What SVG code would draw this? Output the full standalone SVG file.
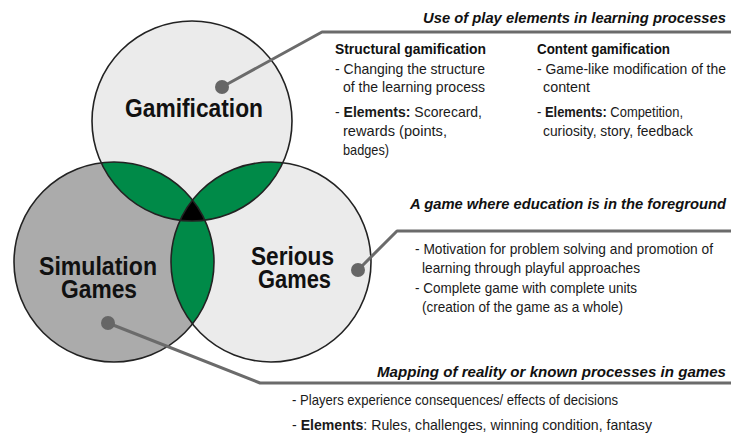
<svg xmlns="http://www.w3.org/2000/svg" width="731" height="436" viewBox="0 0 731 436">
<style>
.t{font-family:"Liberation Sans",Arial,sans-serif;font-size:15px;fill:#1a1a1a}
.h{font-family:"Liberation Sans",Arial,sans-serif;font-size:15.5px;font-weight:bold;font-style:italic;fill:#111;text-anchor:end}
.sub{font-family:"Liberation Sans",Arial,sans-serif;font-size:15px;font-weight:bold;fill:#111}
.lab{font-family:"Liberation Sans",Arial,sans-serif;font-size:26px;font-weight:bold;fill:#111}
.b{font-weight:bold}
.ring{fill:none;stroke:#222;stroke-width:1.6}
.con{fill:none;stroke:#6b6b6b;stroke-width:3;stroke-linejoin:round}
.dot{fill:#666}
</style>
<defs>
<clipPath id="cG"><circle cx="192" cy="121" r="100"/></clipPath>
<clipPath id="cS"><circle cx="114" cy="262" r="100"/></clipPath>
<clipPath id="cR"><circle cx="271" cy="262" r="100"/></clipPath>
</defs>
<rect width="731" height="436" fill="#fff"/>
<g id="venn-fills">
<circle cx="114" cy="262" r="100" fill="#ababab"/>
<circle cx="271" cy="262" r="100" fill="#ebebeb"/>
<circle cx="192" cy="121" r="100" fill="#ebebeb"/>
<circle cx="114" cy="262" r="100" fill="#008a48" clip-path="url(#cG)"/>
<circle cx="271" cy="262" r="100" fill="#008a48" clip-path="url(#cG)"/>
<circle cx="271" cy="262" r="100" fill="#008a48" clip-path="url(#cS)"/>
<g clip-path="url(#cR)"><circle cx="192" cy="121" r="100" fill="#000" clip-path="url(#cS)"/></g>
</g>
<g id="node-simulation">
<circle class="ring" cx="114" cy="262" r="100"/>
<text class="lab"><tspan x="39" y="275" textLength="118" lengthAdjust="spacingAndGlyphs">Simulation</tspan><tspan x="61" y="298" textLength="76" lengthAdjust="spacingAndGlyphs">Games</tspan></text>
</g>
<g id="node-serious">
<circle class="ring" cx="271" cy="262" r="100"/>
<text class="lab"><tspan x="251" y="265" textLength="83" lengthAdjust="spacingAndGlyphs">Serious</tspan><tspan x="258" y="288" textLength="73" lengthAdjust="spacingAndGlyphs">Games</tspan></text>
</g>
<g id="node-gamification">
<circle class="ring" cx="192" cy="121" r="100"/>
<text class="lab" x="125" y="117" textLength="138" lengthAdjust="spacingAndGlyphs">Gamification</text>
</g>
<g id="connectors">
<polyline class="con" points="222,87 322,32 731,32"/>
<polyline class="con" points="358,270 397,231 731,231"/>
<polyline class="con" points="108,323 260,383 731,383"/>
<circle class="dot" cx="222" cy="87" r="7"/>
<circle class="dot" cx="358" cy="270" r="7"/>
<circle class="dot" cx="108" cy="323" r="7"/>
</g>
<g id="text-gamification">
<text class="h" x="726" y="23" textLength="303" lengthAdjust="spacingAndGlyphs">Use of play elements in learning processes</text>
<text class="sub" x="335" y="54" textLength="151" lengthAdjust="spacingAndGlyphs">Structural gamification</text>
<text class="t" x="335" y="74" textLength="150" lengthAdjust="spacingAndGlyphs">- Changing the structure</text>
<text class="t" x="343" y="92" textLength="142" lengthAdjust="spacingAndGlyphs">of the learning process</text>
<text class="t" x="335" y="117" textLength="147" lengthAdjust="spacingAndGlyphs">- <tspan class="b">Elements:</tspan> Scorecard,</text>
<text class="t" x="343" y="136" textLength="104" lengthAdjust="spacingAndGlyphs">rewards (points,</text>
<text class="t" x="343" y="155" textLength="46" lengthAdjust="spacingAndGlyphs">badges)</text>
<text class="sub" x="537" y="54" textLength="133" lengthAdjust="spacingAndGlyphs">Content gamification</text>
<text class="t" x="726" y="74" text-anchor="end" textLength="189" lengthAdjust="spacingAndGlyphs">- Game-like modification of the</text>
<text class="t" x="543" y="92" textLength="47" lengthAdjust="spacingAndGlyphs">content</text>
<text class="t" x="537" y="117" textLength="146" lengthAdjust="spacingAndGlyphs">- <tspan class="b">Elements:</tspan> Competition,</text>
<text class="t" x="543" y="136" textLength="150" lengthAdjust="spacingAndGlyphs">curiosity, story, feedback</text>
</g>
<g id="text-serious">
<text class="h" x="726" y="209" textLength="316" lengthAdjust="spacingAndGlyphs">A game where education is in the foreground</text>
<text class="t" x="415" y="254" textLength="298" lengthAdjust="spacingAndGlyphs">- Motivation for problem solving and promotion of</text>
<text class="t" x="422" y="273" textLength="218" lengthAdjust="spacingAndGlyphs">learning through playful approaches</text>
<text class="t" x="415" y="293" textLength="222" lengthAdjust="spacingAndGlyphs">- Complete game with complete units</text>
<text class="t" x="422" y="312" textLength="201" lengthAdjust="spacingAndGlyphs">(creation of the game as a whole)</text>
</g>
<g id="text-simulation">
<text class="h" x="726" y="377" textLength="349" lengthAdjust="spacingAndGlyphs">Mapping of reality or known processes in games</text>
<text class="t" x="292" y="405" textLength="326" lengthAdjust="spacingAndGlyphs">- Players experience consequences/ effects of decisions</text>
<text class="t" x="292" y="430" textLength="360" lengthAdjust="spacingAndGlyphs">- <tspan class="b">Elements</tspan>: Rules, challenges, winning condition, fantasy</text>
</g>
</svg>
